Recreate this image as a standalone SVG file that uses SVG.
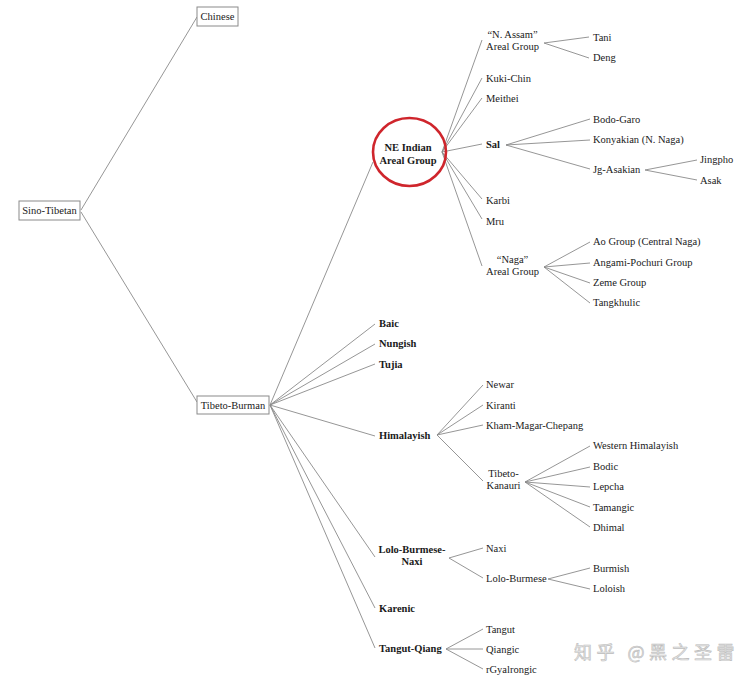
<svg xmlns="http://www.w3.org/2000/svg" width="756" height="687" viewBox="0 0 756 687">
<style>
text{font-family:"Liberation Serif","DejaVu Serif",serif;font-size:10.5px;fill:#1a1a1a}
.b{font-weight:bold}
.c{text-anchor:middle}
.box{fill:#fff;stroke:#8a8a8a;stroke-width:1}
#connectors line{stroke:#8a8a8a;stroke-width:0.9}
.wm{font-family:"Noto Sans CJK SC",sans-serif;font-size:18px;fill:#e6e6e6;stroke:#bdbdbd;stroke-width:0.6;letter-spacing:4.5px}
</style>
<rect width="756" height="687" fill="#fff"/>
<g id="connectors">
<line x1="81" y1="210" x2="197" y2="17"/>
<line x1="81" y1="212" x2="197" y2="402"/>
<line x1="270" y1="405" x2="373" y2="162"/>
<line x1="270" y1="405" x2="375" y2="324"/>
<line x1="270" y1="405" x2="375" y2="344"/>
<line x1="270" y1="405" x2="375" y2="364"/>
<line x1="270" y1="405" x2="375" y2="436"/>
<line x1="270" y1="405" x2="375" y2="557"/>
<line x1="270" y1="405" x2="375" y2="608"/>
<line x1="270" y1="405" x2="375" y2="648"/>
<line x1="442" y1="152" x2="482" y2="40"/>
<line x1="442" y1="152" x2="482" y2="78"/>
<line x1="442" y1="152" x2="482" y2="98"/>
<line x1="442" y1="152" x2="482" y2="144"/>
<line x1="442" y1="152" x2="482" y2="199"/>
<line x1="442" y1="152" x2="482" y2="219"/>
<line x1="442" y1="152" x2="482" y2="266"/>
<line x1="544" y1="43" x2="589" y2="37"/>
<line x1="544" y1="43" x2="589" y2="58"/>
<line x1="506" y1="145" x2="590" y2="119"/>
<line x1="506" y1="145" x2="590" y2="140"/>
<line x1="506" y1="145" x2="590" y2="169"/>
<line x1="645" y1="170" x2="697" y2="160"/>
<line x1="645" y1="170" x2="697" y2="180"/>
<line x1="544" y1="267" x2="590" y2="242"/>
<line x1="544" y1="267" x2="590" y2="263"/>
<line x1="544" y1="267" x2="590" y2="283"/>
<line x1="544" y1="267" x2="590" y2="303"/>
<line x1="437" y1="435" x2="483" y2="385"/>
<line x1="437" y1="435" x2="483" y2="405"/>
<line x1="437" y1="435" x2="483" y2="425"/>
<line x1="437" y1="435" x2="483" y2="481"/>
<line x1="525" y1="482" x2="590" y2="446"/>
<line x1="525" y1="482" x2="590" y2="467"/>
<line x1="525" y1="482" x2="590" y2="487"/>
<line x1="525" y1="482" x2="590" y2="507"/>
<line x1="525" y1="482" x2="590" y2="527"/>
<line x1="449" y1="558" x2="483" y2="548"/>
<line x1="449" y1="558" x2="483" y2="578"/>
<line x1="548" y1="579" x2="590" y2="568"/>
<line x1="548" y1="579" x2="590" y2="589"/>
<line x1="446" y1="649" x2="483" y2="629"/>
<line x1="446" y1="649" x2="483" y2="649"/>
<line x1="446" y1="649" x2="483" y2="669"/>
</g>
<g id="sino-tibetan"><rect class="box" x="19" y="201" width="61" height="19"/><text class="c" x="49.5" y="214">Sino-Tibetan</text></g>
<g id="chinese"><rect class="box" x="197" y="7" width="41" height="19"/><text class="c" x="217.5" y="20">Chinese</text></g>
<g id="tibeto-burman"><rect class="box" x="197" y="396" width="72" height="18"/><text class="c" x="233" y="409">Tibeto-Burman</text></g>
<g id="ne-indian"><ellipse cx="409.5" cy="152" rx="36.5" ry="34" fill="none" stroke="#cf252c" stroke-width="2.6"/><text class="b c" x="408" y="151">NE Indian</text><text class="b c" x="408" y="163.5">Areal Group</text></g>
<g id="n-assam"><text class="c" x="512.5" y="38">“N. Assam”</text><text class="c" x="512.5" y="50">Areal Group</text></g>
<g id="tani"><text x="593" y="41">Tani</text></g>
<g id="deng"><text x="593" y="61">Deng</text></g>
<g id="kuki-chin"><text x="486" y="82">Kuki-Chin</text></g>
<g id="meithei"><text x="486" y="102">Meithei</text></g>
<g id="sal"><text class="b" x="486" y="148">Sal</text></g>
<g id="bodo-garo"><text x="593" y="123">Bodo-Garo</text></g>
<g id="konyakian"><text x="593" y="143">Konyakian (N. Naga)</text></g>
<g id="jg-asakian"><text x="593" y="173">Jg-Asakian</text></g>
<g id="jingpho"><text x="700" y="163">Jingpho</text></g>
<g id="asak"><text x="700" y="184">Asak</text></g>
<g id="karbi"><text x="486" y="204">Karbi</text></g>
<g id="mru"><text x="486" y="225">Mru</text></g>
<g id="naga"><text class="c" x="512.5" y="263">“Naga”</text><text class="c" x="512.5" y="275">Areal Group</text></g>
<g id="ao"><text x="593" y="245">Ao Group (Central Naga)</text></g>
<g id="angami"><text x="593" y="266">Angami-Pochuri Group</text></g>
<g id="zeme"><text x="593" y="286">Zeme Group</text></g>
<g id="tangkhulic"><text x="593" y="306">Tangkhulic</text></g>
<g id="baic"><text class="b" x="379" y="327">Baic</text></g>
<g id="nungish"><text class="b" x="379" y="347">Nungish</text></g>
<g id="tujia"><text class="b" x="379" y="368">Tujia</text></g>
<g id="himalayish"><text class="b" x="379" y="439">Himalayish</text></g>
<g id="newar"><text x="486" y="388">Newar</text></g>
<g id="kiranti"><text x="486" y="409">Kiranti</text></g>
<g id="kham"><text x="486" y="429">Kham-Magar-Chepang</text></g>
<g id="tibeto-kanauri"><text class="c" x="503.5" y="477">Tibeto-</text><text class="c" x="503.5" y="489">Kanauri</text></g>
<g id="western-himalayish"><text x="593" y="449">Western Himalayish</text></g>
<g id="bodic"><text x="593" y="470">Bodic</text></g>
<g id="lepcha"><text x="593" y="490">Lepcha</text></g>
<g id="tamangic"><text x="593" y="511">Tamangic</text></g>
<g id="dhimal"><text x="593" y="531">Dhimal</text></g>
<g id="lolo-burmese-naxi"><text class="b c" x="412" y="553">Lolo-Burmese-</text><text class="b c" x="412" y="565">Naxi</text></g>
<g id="naxi"><text x="486" y="552">Naxi</text></g>
<g id="lolo-burmese"><text x="486" y="582">Lolo-Burmese</text></g>
<g id="burmish"><text x="593" y="572">Burmish</text></g>
<g id="loloish"><text x="593" y="592">Loloish</text></g>
<g id="karenic"><text class="b" x="379" y="612">Karenic</text></g>
<g id="tangut-qiang"><text class="b" x="379" y="652">Tangut-Qiang</text></g>
<g id="tangut"><text x="486" y="633">Tangut</text></g>
<g id="qiangic"><text x="486" y="653">Qiangic</text></g>
<g id="rgyalrongic"><text x="486" y="673">rGyalrongic</text></g>
<text class="wm" x="574" y="659">知乎 @黑之圣雷</text>
</svg>
